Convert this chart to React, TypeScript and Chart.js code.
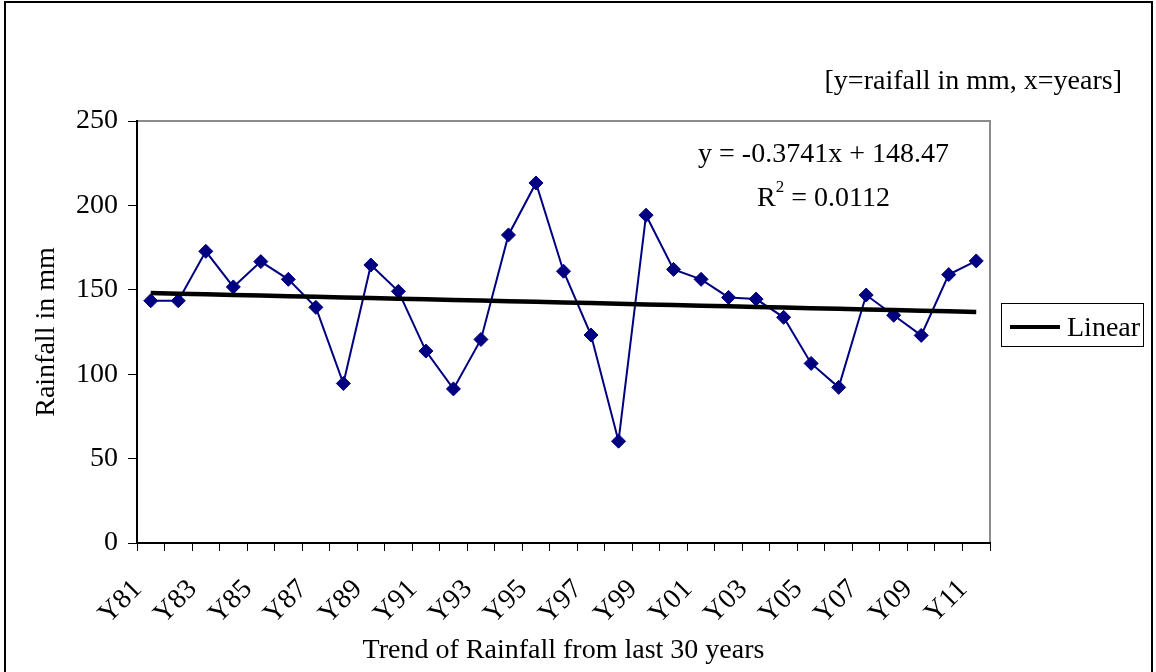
import React, { useEffect, useRef } from 'react';
import { Chart, registerables } from 'chart.js';

Chart.register(...registerables);

const categories = [
  'Y81', 'Y82', 'Y83', 'Y84', 'Y85', 'Y86', 'Y87', 'Y88', 'Y89', 'Y90',
  'Y91', 'Y92', 'Y93', 'Y94', 'Y95', 'Y96', 'Y97', 'Y98', 'Y99', 'Y00',
  'Y01', 'Y02', 'Y03', 'Y04', 'Y05', 'Y06', 'Y07', 'Y08', 'Y09', 'Y10', 'Y11',
];

const rainfall = [
  143.5, 143.5, 172.8, 151.7, 166.7, 156.2, 139.6, 94.5, 164.7, 149.1,
  113.7, 91.3, 120.6, 182.5, 213.3, 161.0, 123.2, 60.3, 194.2, 162.1,
  156.2, 145.5, 144.5, 133.7, 106.4, 92.2, 146.9, 134.9, 123.0, 159.0, 167.1,
];

const trendSlope = -0.3741;
const trendIntercept = 148.47;
const r2Value = '0.0112';

const yMin = 0;
const yMax = 250;
const yStep = 50;

const noteText = '[y=raifall in mm, x=years]';
const yTitle = 'Rainfall in mm';
const xTitle = 'Trend of Rainfall from last 30 years';
const legendLabel = 'Linear';
const equationText = `y = ${trendSlope}x + ${trendIntercept}`;

const FONT = '"Liberation Serif", "Times New Roman", serif';
const FS = 28;

const trendValues = categories.map((_, i) => trendIntercept + trendSlope * (i + 1));

const decorPlugin = {
  id: 'decor',
  beforeDraw(chart: any) {
    const { ctx, chartArea } = chart;
    ctx.save();
    ctx.fillStyle = '#ffffff';
    ctx.fillRect(0, 0, chart.width, chart.height);
    // outer frame
    ctx.strokeStyle = '#000000';
    ctx.lineWidth = 2;
    ctx.strokeRect(5, 2, 1147, 720);
    // plot area frame (gray)
    ctx.strokeStyle = '#8c8c8c';
    ctx.lineWidth = 2;
    ctx.strokeRect(chartArea.left, chartArea.top, chartArea.right - chartArea.left, chartArea.bottom - chartArea.top);
    ctx.restore();
  },
  afterDraw(chart: any) {
    const { ctx, chartArea } = chart;
    ctx.save();
    ctx.fillStyle = '#000000';
    ctx.font = `${FS}px ${FONT}`;
    ctx.textBaseline = 'alphabetic';

    // note at top right
    ctx.textAlign = 'right';
    ctx.fillText(noteText, 1122, 89);

    // equation
    const cx = 823.5;
    ctx.textAlign = 'center';
    ctx.fillText(equationText, cx, 162);

    // R^2 line
    ctx.textAlign = 'left';
    const rW = ctx.measureText('R').width;
    const restText = ` = ${r2Value}`;
    const restW = ctx.measureText(restText).width;
    ctx.font = `${Math.round(FS * 0.62)}px ${FONT}`;
    const supW = ctx.measureText('2').width;
    const total = rW + supW + restW;
    let x = cx - total / 2;
    ctx.font = `${FS}px ${FONT}`;
    ctx.fillText('R', x, 206);
    x += rW;
    ctx.font = `${Math.round(FS * 0.62)}px ${FONT}`;
    ctx.fillText('2', x, 192);
    x += supW;
    ctx.font = `${FS}px ${FONT}`;
    ctx.fillText(restText, x, 206);

    // legend box
    const lx = chartArea.right + 11;
    ctx.strokeStyle = '#000000';
    ctx.lineWidth = 1;
    ctx.strokeRect(lx + 0.5, 303.5, 142, 43);
    ctx.lineWidth = 4;
    ctx.beginPath();
    ctx.moveTo(lx + 9, 327);
    ctx.lineTo(lx + 59, 327);
    ctx.stroke();
    ctx.textAlign = 'left';
    ctx.fillText(legendLabel, lx + 66, 336);
    ctx.restore();
  },
};

export default function App() {
  const canvasRef = useRef<HTMLCanvasElement | null>(null);

  useEffect(() => {
    if (!canvasRef.current) return;
    const chart = new Chart(canvasRef.current, {
      type: 'line',
      data: {
        labels: categories,
        datasets: [
          {
            label: legendLabel,
            data: trendValues,
            borderColor: '#000000',
            borderWidth: 4.5,
            pointRadius: 0,
            fill: false,
            tension: 0,
          },
          {
            label: 'Rainfall',
            data: rainfall,
            borderColor: '#000080',
            backgroundColor: '#000080',
            borderWidth: 2,
            pointStyle: 'rectRot',
            pointRadius: 7,
            pointBackgroundColor: '#000080',
            pointBorderColor: '#000080',
            pointBorderWidth: 1,
            fill: false,
            tension: 0,
          },
        ],
      },
      options: {
        animation: false,
        responsive: false,
        maintainAspectRatio: false,
        layout: { padding: { top: 121, right: 166, bottom: 0, left: 0 } },
        plugins: {
          legend: { display: false },
          tooltip: { enabled: false },
          title: { display: false },
        },
        scales: {
          x: {
            type: 'category',
            offset: true,
            grid: {
              display: true,
              offset: true,
              drawOnChartArea: false,
              drawTicks: true,
              tickLength: 8,
              tickColor: '#000000',
              tickWidth: 1,
            },
            border: { display: true, color: '#000000', width: 2 },
            ticks: {
              autoSkip: false,
              maxRotation: 45,
              minRotation: 45,
              padding: 22,
              labelOffset: -13,
              color: '#000000',
              font: { family: FONT, size: FS },
              callback: (_v: any, i: number) => (i % 2 === 0 ? categories[i] : ''),
            },
            title: {
              display: true,
              text: xTitle,
              color: '#000000',
              font: { family: FONT, size: FS },
              padding: { top: 0, bottom: 5 },
            },
            afterFit: (s: any) => {
              s.height = 129;
            },
          },
          y: {
            min: yMin,
            max: yMax,
            ticks: {
              stepSize: yStep,
              padding: 10,
              color: '#000000',
              font: { family: FONT, size: FS },
            },
            grid: {
              drawOnChartArea: false,
              drawTicks: true,
              tickLength: 9,
              tickColor: '#000000',
              tickWidth: 1,
            },
            border: { display: true, color: '#000000', width: 2 },
            title: {
              display: true,
              text: yTitle,
              color: '#000000',
              font: { family: FONT, size: FS },
              padding: { top: 30, bottom: 0 },
            },
            afterFit: (s: any) => {
              s.width = 137;
            },
          },
        },
      },
      plugins: [decorPlugin],
    } as any);
    return () => chart.destroy();
  }, []);

  return (
    <div style={{ position: 'fixed', left: 0, top: 0, width: 1156, height: 672, background: '#fff' }}>
      <canvas ref={canvasRef} width={1156} height={672} style={{ display: 'block', width: 1156, height: 672 }} />
    </div>
  );
}
